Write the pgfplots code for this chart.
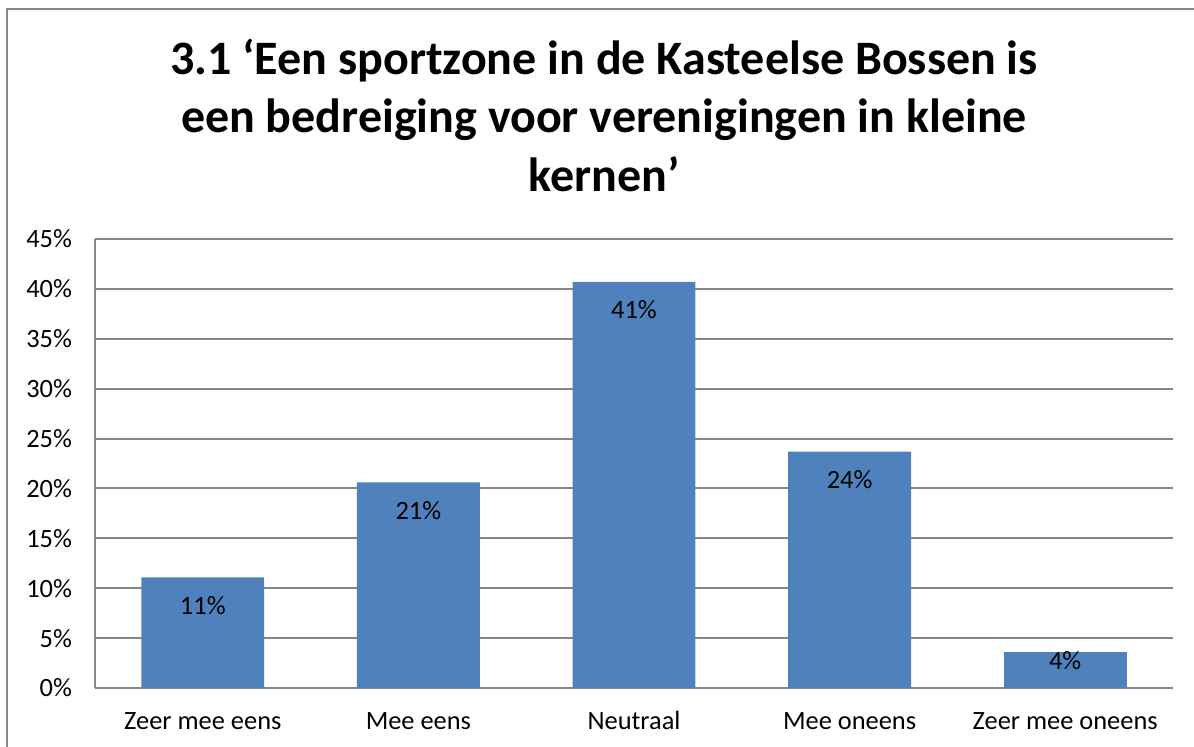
\documentclass[border=0pt]{standalone}
\usepackage{fontspec}
\setmainfont{Carlito}
\usepackage{pgfplots}
\pgfplotsset{compat=1.18}
\definecolor{barblue}{HTML}{4F81BD}
\definecolor{gridgray}{HTML}{868686}
\begin{document}
\begin{tikzpicture}
\path[use as bounding box] (0pt,0pt) rectangle (597pt,373pt);
\draw[gridgray, line width=1pt] (3.5pt,-20pt) -- (3.5pt,368.5pt) -- (620pt,368.5pt);
\node[font=\bfseries\fontsize{24}{29.3}\selectfont, align=center, anchor=base, inner sep=0pt] at (302pt,277.25pt)
  {3.1 ‘Een sportzone in de Kasteelse Bossen is\\een bedreiging voor verenigingen in kleine\\kernen’};
\begin{axis}[
  at={(47.5pt,29pt)}, anchor=south west,
  scale only axis, width=539pt, height=224.5pt,
  ymin=0, ymax=45, ytick={0,5,...,45},
  xmin=-0.5, xmax=4.5, xtick={0,1,2,3,4},
  xticklabels={Zeer mee eens, Mee eens, Neutraal, Mee oneens, Zeer mee oneens},
  axis x line*=bottom, axis y line*=left,
  axis line style={gridgray, line width=1pt, -},
  ymajorgrids, grid style={gridgray, line width=1pt},
  major tick length=0pt, tick style={draw=none},
  ybar, bar width=0.57, bar shift=0pt,
  tick label style={font=\fontsize{13.2}{16}\selectfont, black},
  yticklabel={\pgfmathprintnumber{\tick}\%},
  yticklabel style={xshift=-8pt},
  xticklabel style={text height=8.5pt, text depth=2.5pt, yshift=-8.5pt},
  /pgf/number format/assume math mode=true,
  clip=false,
]
\addplot[fill=barblue, draw=none,
  nodes near coords={\pgfmathprintnumber[fixed,precision=0]{\pgfplotspointmeta}\%},
  every node near coord/.append style={anchor=north, yshift=-6pt, black, font=\fontsize{13.2}{16}\selectfont}]
  coordinates {(0,11.1) (1,20.6) (2,40.7) (3,23.7)};
\addplot[fill=barblue, draw=none,
  nodes near coords={\pgfmathprintnumber[fixed,precision=0]{\pgfplotspointmeta}\%},
  every node near coord/.append style={anchor=north, yshift=4pt, black, font=\fontsize{13.2}{16}\selectfont}]
  coordinates {(4,3.6)};
\end{axis}
\end{tikzpicture}
\end{document}
